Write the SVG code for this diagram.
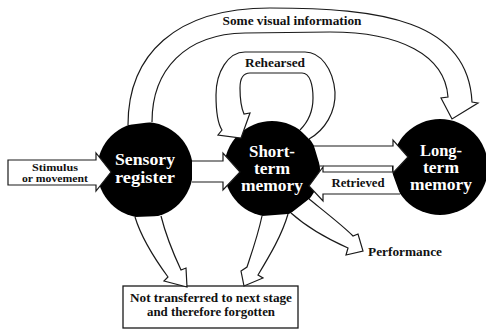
<svg xmlns="http://www.w3.org/2000/svg" width="486" height="329" viewBox="0 0 486 329" font-family="'Liberation Serif', 'DejaVu Serif', serif">
<style>
.node{fill:#000}
.ntext{fill:#fff;font-family:'Liberation Serif','DejaVu Serif',serif;font-weight:bold;font-size:16px;text-anchor:middle}
.lbl{fill:#111;font-family:'Liberation Serif','DejaVu Serif',serif;font-weight:bold;font-size:12px}
.mid{text-anchor:middle}
.arr{fill:#fff;stroke:#1a1a1a;stroke-width:1.2;stroke-linejoin:miter}
.box{fill:#fff;stroke:#1a1a1a;stroke-width:1.3}
</style>
<rect width="486" height="329" fill="#fff"/>
<g id="sensory-register">
<circle class="node" cx="145" cy="170" r="48"/>
<text class="ntext" x="145" y="165" textLength="60" lengthAdjust="spacingAndGlyphs">Sensory</text>
<text class="ntext" x="145" y="183" textLength="60" lengthAdjust="spacingAndGlyphs">register</text>
</g>
<g id="short-term-memory">
<circle class="node" cx="272" cy="169" r="48"/>
<text class="ntext" x="272" y="157" textLength="46" lengthAdjust="spacingAndGlyphs">Short-</text>
<text class="ntext" x="272" y="174" textLength="36" lengthAdjust="spacingAndGlyphs">term</text>
<text class="ntext" x="272" y="191" textLength="62" lengthAdjust="spacingAndGlyphs">memory</text>
</g>
<g id="long-term-memory">
<circle class="node" cx="440" cy="167" r="48"/>
<text class="ntext" x="441" y="156" textLength="42" lengthAdjust="spacingAndGlyphs">Long-</text>
<text class="ntext" x="441" y="173" textLength="36" lengthAdjust="spacingAndGlyphs">term</text>
<text class="ntext" x="441" y="190" textLength="62" lengthAdjust="spacingAndGlyphs">memory</text>
</g>
<g id="forgotten">
<rect class="box" x="123" y="286" width="175" height="42"/>
<text class="lbl mid" x="211" y="302" textLength="162" lengthAdjust="spacingAndGlyphs">Not transferred to next stage</text>
<text class="lbl mid" x="211" y="316" textLength="128" lengthAdjust="spacingAndGlyphs">and therefore forgotten</text>
</g>
<g id="connectors">
<path class="arr" d="M8,160 H96 V153 L111,172 L96,191 V185 H8 Z"/>
<text class="lbl mid" x="55" y="171" style="font-size:11px" textLength="46" lengthAdjust="spacingAndGlyphs">Stimulus</text>
<text class="lbl mid" x="55" y="182" style="font-size:11px" textLength="66" lengthAdjust="spacingAndGlyphs">or movement</text>
<path class="arr" d="M192,161 H223 V153 L240,172 L223,190 V182 H192"/>
<path class="arr" d="M314,146 H393 V140 L408,157 L393,173 V166 H320"/>
<path class="arr" d="M392,172 H323 V167 L309,186 L323,201 V194 H400"/>
<text class="lbl mid" x="358" y="187" textLength="53" lengthAdjust="spacingAndGlyphs">Retrieved</text>
<path class="arr" d="M128,125 C128,55 175,8 270,8 C380,8 468,20 472,102 L478,103 L452,119 L441,98 L448,97 C445,55 400,32 330,32 L245,33 C185,34 152,70 152,122"/>
<text class="lbl mid" x="292" y="25" textLength="139" lengthAdjust="spacingAndGlyphs">Some visual information</text>
<path class="arr" d="M309,139 C325,130 336,112 335,92 C333,68 320,52 305,52 L245,52 C228,52 216,72 216,95 C216,112 218,124 222,130 L218,135 L241,138 L250,113 L244,114 C240,105 240,95 240,88 C240,78 243,73 250,73 L302,73 C310,73 313,85 313,98 C313,112 308,122 300,130"/>
<text class="lbl mid" x="275" y="67" textLength="60" lengthAdjust="spacingAndGlyphs">Rehearsed</text>
<path class="arr" d="M135,217 C142,240 157,262 168,277 L164,281 L187,287 L186,268 L181,270 C174,255 166,236 161,216"/>
<path class="arr" d="M262,216 C258,235 252,252 247,267 L241,271 L244,286 L263,278 L258,275 C270,255 282,235 288,214"/>
<path class="arr" d="M309,199 C325,212 342,225 353,236 L358,234 L363,251 L346,255 L348,248 C330,240 310,230 291,213"/>
<text class="lbl" x="368" y="256" textLength="74" lengthAdjust="spacingAndGlyphs">Performance</text>
</g>
</svg>
